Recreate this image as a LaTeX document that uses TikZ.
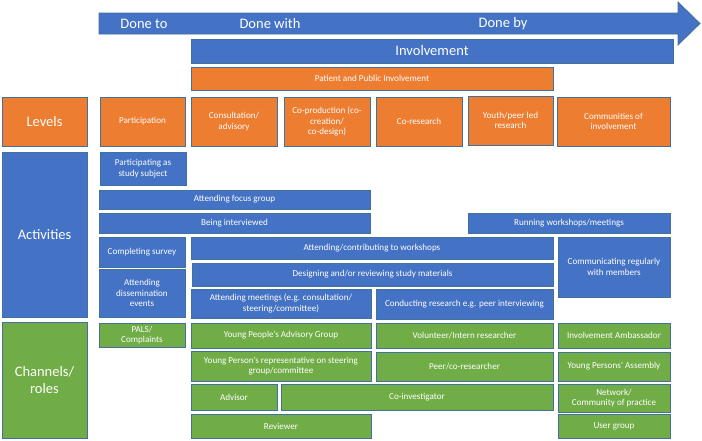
\documentclass[tikz,border=0pt]{standalone}
\usepackage{fontspec}
\setmainfont{Carlito}
\definecolor{obl}{HTML}{4472C4}
\definecolor{oor}{HTML}{ED7D31}
\definecolor{ogr}{HTML}{70AD47}
\definecolor{oln}{HTML}{41719C}
\tikzset{
 cell/.style={draw=oln, line width=0.8pt, text=white, align=center, inner sep=0pt, font=\fontsize{9.1}{10.6}\selectfont},
 bluebox/.style={cell, fill=obl},
 orbox/.style={cell, fill=oor},
 grbox/.style={cell, fill=ogr},
 big/.style={font=\fontsize{14.5}{17}\selectfont},
 lbl/.style={text=white, inner sep=0pt, font=\fontsize{14.5}{17}\selectfont},
}
\newcommand\bx[7]{\node[#2, minimum width={(#5-#3)*1pt}, minimum height={(#6-#4)*1pt}] (#1) at ({(#3+#5)/2},{(#4+#6)/2}) {#7};}
\begin{document}
\begin{tikzpicture}[x=1pt,y=-1pt]
\useasboundingbox (0,0) rectangle (702,440);
% top arrow
\filldraw[fill=obl, draw=oln, line width=0.8pt, line join=miter] (99,13) -- (678,13) -- (678,2) -- (700,23.5) -- (678,45) -- (678,34) -- (99,34) -- cycle;
\node[lbl] (doneto) at (144,24) {Done to};
\node[lbl] (donewith) at (270,24) {Done with};
\node[lbl] (doneby) at (503,24) {Done by};
\bx{inv}{bluebox,big}{191}{39}{673}{63}{Involvement}
\bx{ppi}{orbox}{191}{67}{553}{90}{Patient and Public Involvement}
% levels
\bx{levels}{orbox,big}{2}{97}{87}{146}{Levels}
\bx{l1}{orbox}{100}{97}{185}{146}{Participation}
\bx{l2}{orbox}{191}{97}{277}{146}{Consultation/\\advisory}
\bx{l3}{orbox}{284}{97}{370}{146}{Co-production (co-\\creation/\\co-design)}
\bx{l4}{orbox}{376}{97}{462}{146}{Co-research}
\bx{l5}{orbox}{468}{96}{553}{145}{Youth/peer led\\research}
\bx{l6}{orbox}{557}{97}{670}{146}{Communities of\\involvement}
% activities
\bx{act}{bluebox,big}{2}{152}{87}{317}{Activities}
\bx{a1}{bluebox}{100}{152}{186}{185}{Participating as\\study subject}
\bx{a2}{bluebox}{99}{190}{370}{209}{Attending focus group}
\bx{a3}{bluebox}{99}{213}{370}{233}{Being interviewed}
\bx{a4}{bluebox}{468}{213}{670}{233}{Running workshops/meetings}
\bx{a5}{bluebox}{99}{237}{185}{267}{Completing survey}
\bx{a6}{bluebox}{99}{269}{185}{317}{Attending\\dissemination\\events}
\bx{a7}{bluebox}{191}{237}{553}{259}{Attending/contributing to workshops}
\bx{a8}{bluebox}{192}{263}{553}{286}{Designing and/or reviewing study materials}
\bx{a9}{bluebox}{191}{289}{371}{318}{Attending meetings (e.g. consultation/\\steering/committee)}
\bx{a10}{bluebox}{376}{289}{553}{319}{Conducting research e.g. peer interviewing}
\bx{a11}{bluebox}{558}{237}{670}{297}{Communicating regularly\\with members}
% channels
\bx{ch}{grbox,big}{2}{322}{87}{438}{Channels/\\roles}
\bx{c1}{grbox}{99}{323}{185}{347}{PALS/\\Complaints}
\bx{c2}{grbox}{191}{323}{371}{348}{Young People’s Advisory Group}
\bx{c3}{grbox}{376}{323}{553}{348}{Volunteer/Intern researcher}
\bx{c4}{grbox}{558}{323}{670}{348}{Involvement Ambassador}
\bx{c5}{grbox}{191}{351}{371}{381}{Young Person’s representative on steering\\group/committee}
\bx{c6}{grbox}{376}{352}{553}{381}{Peer/co-researcher}
\bx{c7}{grbox}{558}{352}{670}{381}{Young Persons’ Assembly}
\bx{c8}{grbox}{191}{384}{277}{410}{Advisor}
\bx{c9}{grbox}{281}{384}{553}{410}{Co-investigator}
\bx{c10}{grbox}{558}{384}{670}{412}{Network/\\Community of practice}
\bx{c11}{grbox}{191}{414}{371}{438}{Reviewer}
\bx{c12}{grbox}{558}{414}{670}{438}{User group}
\end{tikzpicture}
\end{document}
